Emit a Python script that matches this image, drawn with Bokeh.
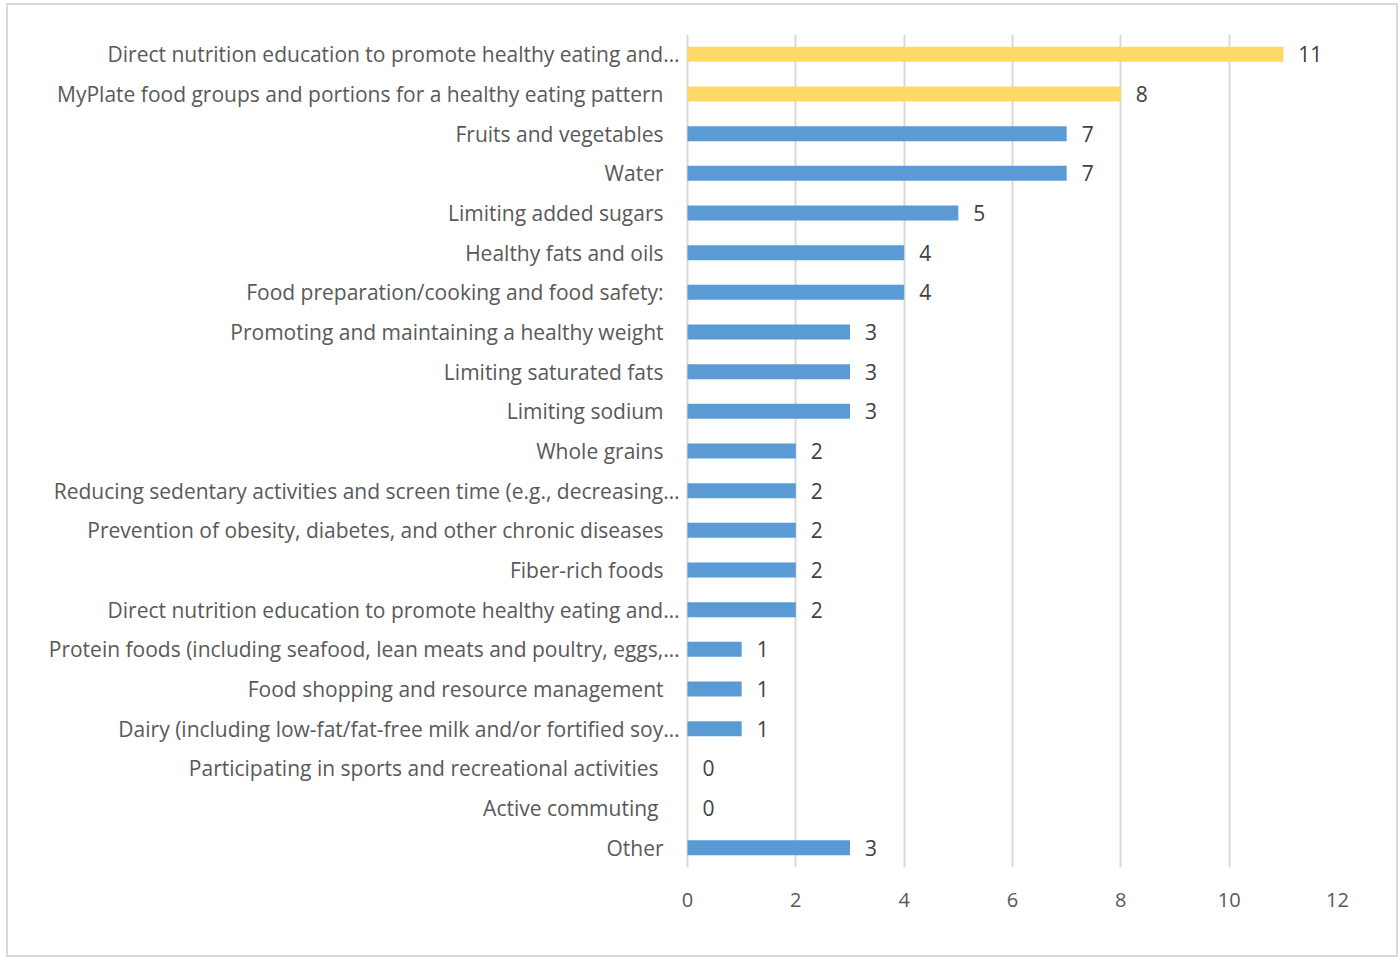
from bokeh.plotting import figure
from bokeh.layouts import row
from bokeh.models import Range1d, FixedTicker, ColumnDataSource
from bokeh.core.properties import value
from bokeh.embed import file_html
from bokeh.resources import INLINE

categories = [
    "Direct nutrition education to promote healthy eating and…",
    "MyPlate food groups and portions for a healthy eating pattern",
    "Fruits and vegetables",
    "Water",
    "Limiting added sugars",
    "Healthy fats and oils",
    "Food preparation/cooking and food safety:",
    "Promoting and maintaining a healthy weight",
    "Limiting saturated fats",
    "Limiting sodium",
    "Whole grains",
    "Reducing sedentary activities and screen time (e.g., decreasing…",
    "Prevention of obesity, diabetes, and other chronic diseases",
    "Fiber-rich foods",
    "Direct nutrition education to promote healthy eating and…",
    "Protein foods (including seafood, lean meats and poultry, eggs,…",
    "Food shopping and resource management",
    "Dairy (including low-fat/fat-free milk and/or fortified soy…",
    "Participating in sports and recreational activities",
    "Active commuting",
    "Other",
]
counts = [11, 8, 7, 7, 5, 4, 4, 3, 3, 3, 2, 2, 2, 2, 2, 1, 1, 1, 0, 0, 3]
x_ticks = [0, 2, 4, 6, 8, 10, 12]

YELLOW = "#FFD966"
BLUE = "#5B9BD5"
GRID = "#D9D9D9"
TXT = "#595959"
FONT = "Open Sans"

n = len(categories)
ypos = [n - 1 - i for i in range(n)]
colors = [YELLOW if i < 2 else BLUE for i in range(n)]

PAD = 8            # px between label panel and x = 0
AXIS_W = 650       # px from 0 to 12
X_MAX = 12
LEFT_W = 679 - PAD


def label_offset(lbl, v):
    if lbl.endswith("…"):
        return PAD - 8
    if v == 0:
        return PAD - 29
    return PAD - 24


offsets = [label_offset(c, v) for c, v in zip(categories, counts)]
ones = [1] * n

src = ColumnDataSource(dict(y=ypos, v=counts, c=colors, lbl=categories,
                            off=offsets, one=ones, vt=[str(v) for v in counts]))

yr = Range1d(-0.5, n - 0.5)

# label panel (left of the plot frame)
pl = figure(width=LEFT_W, height=950, output_backend="svg", toolbar_location=None,
            x_range=Range1d(0, 1), y_range=yr,
            min_border_left=0, min_border_right=0, min_border_top=29,
            min_border_bottom=88, outline_line_color=None)
pl.axis.visible = False
pl.grid.grid_line_color = None
pl.text(x="one", y="y", text="lbl", x_offset="off", source=src,
        text_align="right", text_baseline="middle", text_color=TXT,
        text_font=value(FONT), text_font_size="21px")

x_start = -PAD * X_MAX / AXIS_W
p = figure(width=1388 - LEFT_W, height=950, output_backend="svg", toolbar_location=None,
           x_range=Range1d(x_start, X_MAX), y_range=yr,
           min_border_left=0, min_border_right=59, min_border_top=29,
           min_border_bottom=88, outline_line_color=None)

p.hbar(y="y", right="v", left=0, height=0.38, color="c", line_color=None, source=src)
p.text(x="v", y="y", text="vt", x_offset=15, source=src,
       text_align="left", text_baseline="middle", text_color="#404040",
       text_font=value(FONT), text_font_size="21px")

p.yaxis.visible = False
p.ygrid.grid_line_color = None
p.xgrid.grid_line_color = GRID
p.xgrid.grid_line_width = 2
p.xaxis.ticker = FixedTicker(ticks=x_ticks)
p.xaxis.axis_line_color = None
p.xaxis.major_tick_line_color = None
p.xaxis.minor_tick_line_color = None
p.xaxis.major_label_text_font = FONT
p.xaxis.major_label_text_font_size = "20px"
p.xaxis.major_label_text_color = TXT
p.xaxis.major_label_standoff = 19

layout = row(pl, p, spacing=0)
layout.styles = {"margin-left": "6px", "margin-top": "3px", "border": "2px solid #D9D9D9"}

open("out.html", "w").write(file_html(layout, INLINE))
